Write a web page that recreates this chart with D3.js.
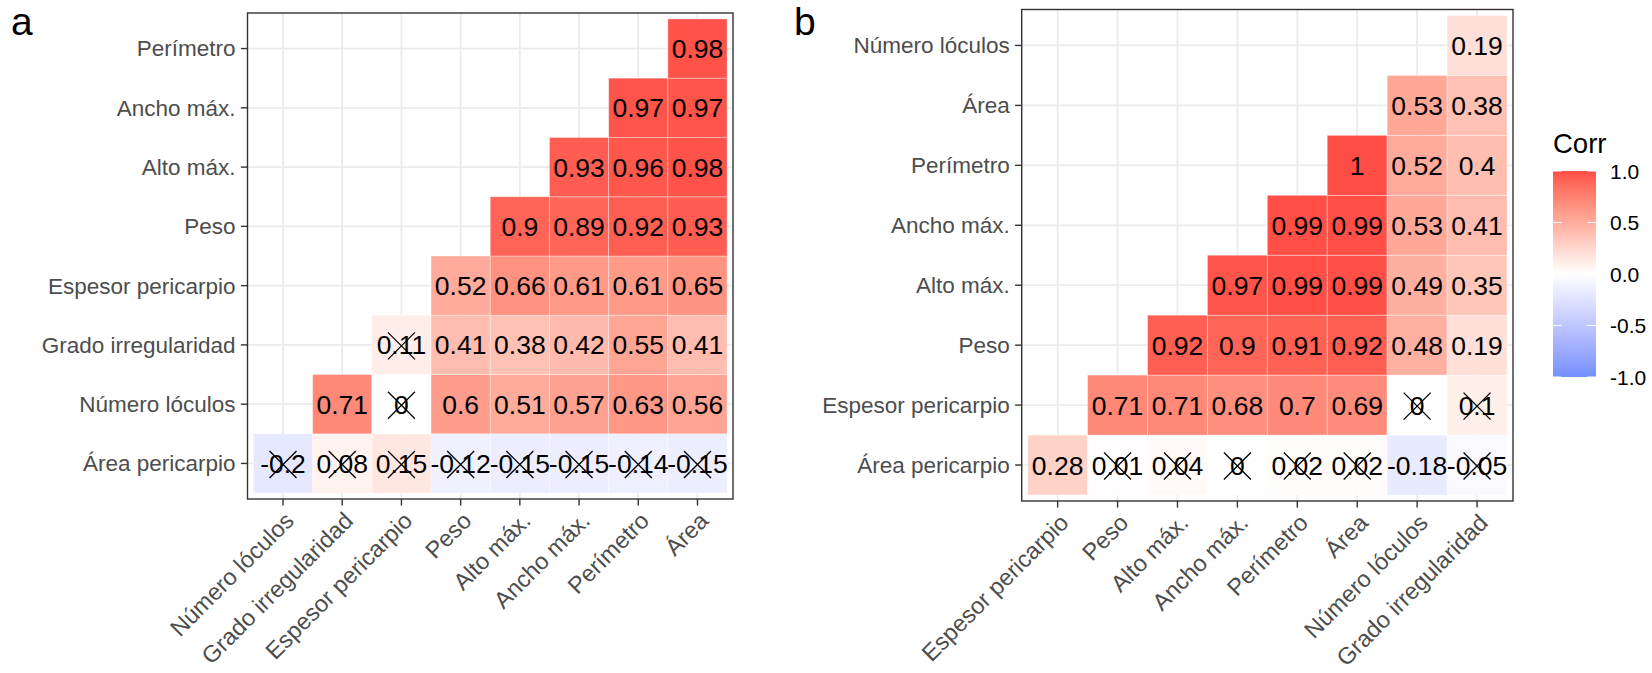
<!DOCTYPE html>
<html>
<head>
<meta charset="utf-8">
<script src="https://cdn.jsdelivr.net/npm/d3@7"></script>
<style>
  body { margin: 0; background: #ffffff; }
  svg { display: block; font-family: "Liberation Sans", Arial, Helvetica, sans-serif; }
</style>
</head>
<body>
<svg id="chart" width="1652" height="673"></svg>
<script>
// ---- Panel a: correlation matrix (lower triangle) ----
const colsA = ["Número lóculos", "Grado irregularidad", "Espesor pericarpio", "Peso",
               "Alto máx.", "Ancho máx.", "Perímetro", "Área"];
// rows listed bottom to top
const rowsA = ["Área pericarpio", "Número lóculos", "Grado irregularidad", "Espesor pericarpio",
               "Peso", "Alto máx.", "Ancho máx.", "Perímetro"];
const valuesA = [
  [-0.2, 0.08, 0.15, -0.12, -0.15, -0.15, -0.14, -0.15],
  [null, 0.71, 0,    0.6,   0.51,  0.57,  0.63,  0.56],
  [null, null, 0.11, 0.41,  0.38,  0.42,  0.55,  0.41],
  [null, null, null, 0.52,  0.66,  0.61,  0.61,  0.65],
  [null, null, null, null,  0.9,   0.89,  0.92,  0.93],
  [null, null, null, null,  null,  0.93,  0.96,  0.98],
  [null, null, null, null,  null,  null,  0.97,  0.97],
  [null, null, null, null,  null,  null,  null,  0.98]
];
// 1 = not significant (crossed out)
const insigA = [
  [1, 1, 1, 1, 1, 1, 1, 1],
  [0, 0, 1, 0, 0, 0, 0, 0],
  [0, 0, 1, 0, 0, 0, 0, 0],
  [0, 0, 0, 0, 0, 0, 0, 0],
  [0, 0, 0, 0, 0, 0, 0, 0],
  [0, 0, 0, 0, 0, 0, 0, 0],
  [0, 0, 0, 0, 0, 0, 0, 0],
  [0, 0, 0, 0, 0, 0, 0, 0]
];

// ---- Panel b ----
const colsB = ["Espesor pericarpio", "Peso", "Alto máx.", "Ancho máx.", "Perímetro",
               "Área", "Número lóculos", "Grado irregularidad"];
const rowsB = ["Área pericarpio", "Espesor pericarpio", "Peso", "Alto máx.", "Ancho máx.",
               "Perímetro", "Área", "Número lóculos"];
const valuesB = [
  [0.28, 0.01, 0.04, 0,    0.02, 0.02, -0.18, -0.05],
  [null, 0.71, 0.71, 0.68, 0.7,  0.69, 0,     0.1],
  [null, null, 0.92, 0.9,  0.91, 0.92, 0.48,  0.19],
  [null, null, null, 0.97, 0.99, 0.99, 0.49,  0.35],
  [null, null, null, null, 0.99, 0.99, 0.53,  0.41],
  [null, null, null, null, null, 1,    0.52,  0.4],
  [null, null, null, null, null, null, 0.53,  0.38],
  [null, null, null, null, null, null, null,  0.19]
];
const insigB = [
  [0, 1, 1, 1, 1, 1, 0, 1],
  [0, 0, 0, 0, 0, 0, 1, 1],
  [0, 0, 0, 0, 0, 0, 0, 0],
  [0, 0, 0, 0, 0, 0, 0, 0],
  [0, 0, 0, 0, 0, 0, 0, 0],
  [0, 0, 0, 0, 0, 0, 0, 0],
  [0, 0, 0, 0, 0, 0, 0, 0],
  [0, 0, 0, 0, 0, 0, 0, 0]
];

// ---- Legend ----
const legendTitle = "Corr";
const legendTicks = [1, 0.5, 0, -0.5, -1];
const legendTickLabels = ["1.0", "0.5", "0.0", "-0.5", "-1.0"];

const fill = d3.scaleLinear()
  .domain([-1, 0, 1])
  .range(["#7390ff", "#ffffff", "#ff4d45"])
  .interpolate(d3.interpolateLab);

const svg = d3.select("#chart");
const TICK = 6.6, PAD = 5.3;
const FONT = "Liberation Sans, Arial, sans-serif";

function drawPanel(cfg) {
  const { cols, rows, values, insig, x0, x1, y0, y1, tag, tagX } = cfg;
  const x = d3.scaleBand().domain(cols).range([x0, x1]).paddingInner(0).paddingOuter(0.1);
  const y = d3.scaleBand().domain(rows).range([y1, y0]).paddingInner(0).paddingOuter(0.1);
  const g = svg.append("g");

  // grid lines
  g.append("g").selectAll("line").data(cols).join("line")
    .attr("x1", d => x(d) + x.bandwidth() / 2).attr("x2", d => x(d) + x.bandwidth() / 2)
    .attr("y1", y0).attr("y2", y1)
    .attr("stroke", "#ebebeb").attr("stroke-width", 1.8);
  g.append("g").selectAll("line").data(rows).join("line")
    .attr("y1", d => y(d) + y.bandwidth() / 2).attr("y2", d => y(d) + y.bandwidth() / 2)
    .attr("x1", x0).attr("x2", x1)
    .attr("stroke", "#ebebeb").attr("stroke-width", 1.8);

  const cells = [];
  values.forEach((row, ri) => row.forEach((v, ci) => {
    if (v !== null) cells.push({ row: rows[ri], col: cols[ci], v, ns: insig[ri][ci] === 1 });
  }));

  g.append("g").selectAll("rect").data(cells).join("rect")
    .attr("x", d => x(d.col)).attr("y", d => y(d.row))
    .attr("width", x.bandwidth()).attr("height", y.bandwidth())
    .attr("fill", d => fill(d.v))
    .attr("stroke", "rgba(255,255,255,0.35)").attr("stroke-width", 1);

  g.append("g").selectAll("text").data(cells).join("text")
    .attr("x", d => x(d.col) + x.bandwidth() / 2)
    .attr("y", d => y(d.row) + y.bandwidth() / 2)
    .attr("dy", "0.36em")
    .attr("text-anchor", "middle")
    .attr("font-size", 26.5)
    .attr("fill", "#000")
    .text(d => String(d.v));

  const s = 13.5;
  const crosses = g.append("g").selectAll("g").data(cells.filter(d => d.ns)).join("g")
    .attr("transform", d => `translate(${x(d.col) + x.bandwidth() / 2},${y(d.row) + y.bandwidth() / 2 + 1})`);
  crosses.append("line").attr("x1", -s).attr("y1", -s).attr("x2", s).attr("y2", s)
    .attr("stroke", "#000").attr("stroke-width", 1.3);
  crosses.append("line").attr("x1", -s).attr("y1", s).attr("x2", s).attr("y2", -s)
    .attr("stroke", "#000").attr("stroke-width", 1.3);

  // panel border
  g.append("rect").attr("x", x0).attr("y", y0).attr("width", x1 - x0).attr("height", y1 - y0)
    .attr("fill", "none").attr("stroke", "#333333").attr("stroke-width", 1.4);

  // axes
  const ay = g.append("g").attr("transform", `translate(${x0},0)`)
    .call(d3.axisLeft(y).tickSize(TICK).tickSizeOuter(0).tickPadding(PAD));
  ay.select(".domain").remove();
  ay.selectAll(".tick line").attr("stroke", "#333333").attr("stroke-width", 1.4);
  ay.selectAll(".tick text").attr("font-size", 22.5).attr("fill", "#4d4d4d")
    .attr("font-family", FONT).attr("dy", "0.35em");

  const ax = g.append("g").attr("transform", `translate(0,${y1})`)
    .call(d3.axisBottom(x).tickSize(TICK).tickSizeOuter(0).tickPadding(PAD));
  ax.select(".domain").remove();
  ax.selectAll(".tick line").attr("stroke", "#333333").attr("stroke-width", 1.4);
  ax.selectAll(".tick text")
    .attr("font-size", 23.5).attr("fill", "#4d4d4d")
    .attr("font-family", FONT)
    .attr("y", 0).attr("dy", "0.74em")
    .attr("text-anchor", "end")
    .attr("transform", `translate(0,${TICK + PAD - 1}) rotate(-45)`);

  // panel tag
  svg.append("text").attr("x", tagX).attr("y", 35)
    .attr("font-size", 39).attr("fill", "#000").text(tag);
}

drawPanel({ cols: colsA, rows: rowsA, values: valuesA, insig: insigA,
            x0: 247.5, x1: 733, y0: 13, y1: 499, tag: "a", tagX: 11 });
drawPanel({ cols: colsB, rows: rowsB, values: valuesB, insig: insigB,
            x0: 1021.7, x1: 1513, y0: 9.5, y1: 501, tag: "b", tagX: 794 });

// ---- colour bar legend ----
const lg = svg.append("g");
const barX = 1553, barW = 43, barTop = 171, barBot = 377;
const ly = d3.scaleLinear().domain([1, -1]).range([barTop, barBot]);
const grad = svg.append("defs").append("linearGradient")
  .attr("id", "corrGrad").attr("x1", 0).attr("y1", 0).attr("x2", 0).attr("y2", 1);
grad.selectAll("stop").data(d3.range(0, 41)).join("stop")
  .attr("offset", d => `${d / 40 * 100}%`)
  .attr("stop-color", d => fill(1 - d / 20));
lg.append("rect").attr("x", barX).attr("y", barTop).attr("width", barW).attr("height", barBot - barTop)
  .attr("fill", "url(#corrGrad)");
lg.append("g").selectAll("g").data(legendTicks).join("g")
  .each(function (d) {
    const t = d3.select(this);
    t.append("line").attr("x1", barX).attr("x2", barX + barW / 5)
      .attr("y1", ly(d)).attr("y2", ly(d)).attr("stroke", "#fff").attr("stroke-width", 1);
    t.append("line").attr("x1", barX + barW - barW / 5).attr("x2", barX + barW)
      .attr("y1", ly(d)).attr("y2", ly(d)).attr("stroke", "#fff").attr("stroke-width", 1);
  });
lg.append("g").selectAll("text").data(legendTicks).join("text")
  .attr("x", 1610).attr("y", d => ly(d)).attr("dy", "0.36em")
  .attr("font-size", 21).attr("fill", "#000")
  .text((d, i) => legendTickLabels[i]);
lg.append("text").attr("x", barX).attr("y", 153).attr("font-size", 27.5).attr("fill", "#000")
  .text(legendTitle);
</script>
</body>
</html>
